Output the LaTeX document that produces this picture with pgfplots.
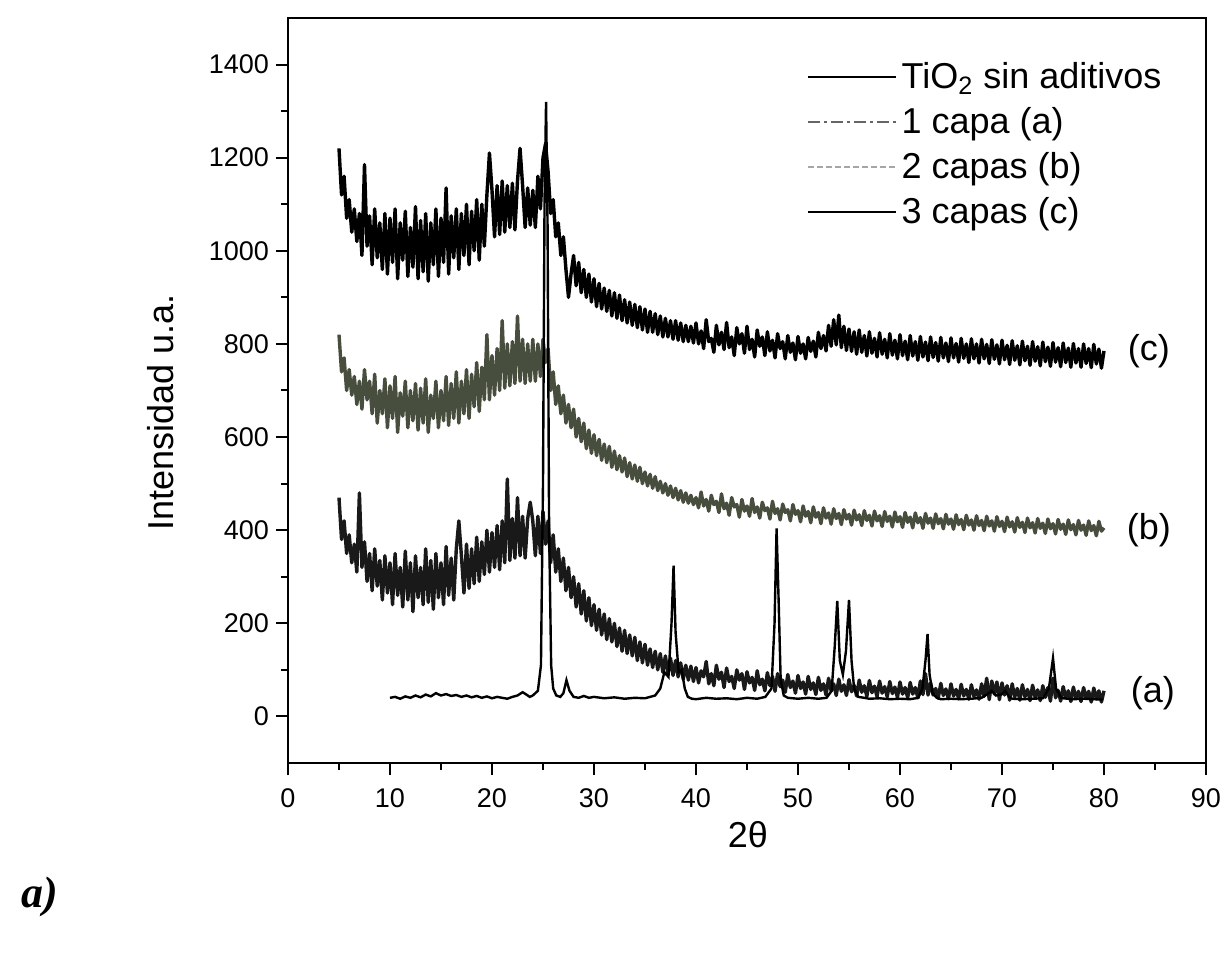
\documentclass[border=0pt]{standalone}
\usepackage{fontspec}
\setmainfont{Liberation Sans}
\newfontfamily\serifbi{Liberation Serif}
\usepackage{pgfplots}
\usepackage{pgfplotstable}
\pgfplotsset{compat=1.18}

\pgfplotstableread{
x a b c
5.00 470 820 1220
5.25 380 740 1120
5.50 420 770 1160
5.75 350 700 1070
6.00 390 745 1110
6.25 330 690 1040
6.50 370 730 1090
6.75 310 670 1020
7.00 480 720 1080
7.25 320 660 990
7.50 375 745 1185
7.75 290 680 1010
8.00 350 720 1075
8.25 270 650 970
8.50 360 735 1090
8.75 280 630 985
9.00 335 700 1060
9.25 250 650 960
9.50 345 725 1080
9.75 265 620 950
10.00 330 710 1070
10.25 240 640 975
10.50 350 730 1090
10.75 260 610 940
11.00 320 695 1060
11.25 235 645 980
11.50 355 720 1085
11.75 250 620 945
12.00 330 700 1050
12.25 225 635 965
12.50 345 715 1095
12.75 255 615 940
13.00 320 705 1065
13.25 240 630 955
13.50 360 725 1080
13.75 245 610 935
14.00 335 690 1060
14.25 230 640 970
14.50 350 720 1090
14.75 255 620 945
15.00 330 700 1070
15.25 240 635 975
15.50 365 730 1135
15.75 260 625 950
16.00 340 715 1075
16.25 250 640 985
16.50 360 740 1090
16.75 420 630 960
17.00 345 720 1080
17.25 265 650 990
17.50 370 745 1100
17.75 275 640 970
18.00 360 735 1085
18.25 285 665 1000
18.50 385 760 1110
18.75 290 655 980
19.00 375 750 1100
19.25 305 680 1010
19.50 400 820 1120
19.75 310 680 1210
20.00 395 775 1130
20.25 320 690 1030
20.50 410 790 1140
20.75 315 700 1035
21.00 420 850 1150
21.25 330 705 1040
21.50 510 800 1140
21.75 335 710 1050
22.00 425 805 1145
22.25 340 715 1045
22.50 470 860 1150
22.75 345 720 1220
23.00 430 810 1140
23.25 340 715 1050
23.50 425 800 1135
23.75 460 720 1055
24.00 420 810 1130
24.25 345 720 1050
24.50 430 800 1160
24.75 350 730 1090
25.00 440 810 1200
25.25 370 760 1230
25.50 420 790 1170
25.75 330 700 1080
26.00 390 740 1110
26.25 310 670 1030
26.50 360 710 1060
26.75 290 650 990
27.00 340 690 1030
27.25 270 630 960
27.50 320 670 900
27.75 255 620 950
28.00 300 660 990
28.25 235 600 925
28.50 285 640 975
28.75 220 590 910
29.00 270 630 960
29.25 205 575 900
29.50 255 615 950
29.75 195 565 890
30.00 240 605 940
30.25 185 560 880
30.50 230 595 930
30.75 175 550 875
31.00 220 585 920
31.25 165 545 870
31.50 210 580 915
31.75 160 535 860
32.00 200 570 910
32.25 150 530 855
32.50 190 560 905
32.75 140 525 850
33.00 185 555 895
33.25 135 515 845
33.50 175 545 890
33.75 130 510 840
34.00 170 540 885
34.25 120 505 835
34.50 160 535 880
34.75 115 500 830
35.00 155 525 875
35.25 110 495 825
35.50 145 520 870
35.75 105 490 825
36.00 140 515 865
36.25 100 485 820
36.50 135 505 860
36.75 95 480 815
37.00 130 500 855
37.25 90 475 815
37.50 125 495 850
37.75 88 470 810
38.00 120 490 850
38.25 85 465 808
38.50 115 485 845
38.75 80 460 805
39.00 110 480 840
39.25 78 458 805
39.50 108 475 838
39.75 75 455 802
40.00 105 470 845
40.25 72 448 800
40.50 98 482 828
40.75 85 452 790
41.00 118 466 852
41.25 70 441 805
41.50 92 475 812
41.75 66 455 782
42.00 110 462 840
42.25 80 438 798
42.50 95 478 825
42.75 62 446 788
43.00 104 458 846
43.25 75 432 792
43.50 86 470 815
43.75 60 450 775
44.00 100 455 835
44.25 78 428 800
44.50 92 466 822
44.75 58 441 780
45.00 96 452 838
45.25 72 430 788
45.50 84 468 810
45.75 56 438 772
46.00 98 450 830
46.25 68 426 795
46.50 80 460 815
46.75 55 442 775
47.00 94 448 826
47.25 66 424 785
47.50 86 462 808
47.75 54 436 770
48.00 92 446 822
48.25 64 422 790
48.50 78 456 805
48.75 52 438 768
49.00 90 444 818
49.25 62 420 782
49.50 76 455 802
49.75 50 434 766
50.00 88 442 816
50.25 60 418 780
50.50 74 452 800
50.75 48 430 768
51.00 86 440 814
51.25 58 416 784
51.50 72 450 806
51.75 47 428 772
52.00 84 438 825
52.25 56 414 790
52.50 70 448 818
52.75 46 426 785
53.00 82 437 840
53.25 55 413 795
53.50 70 446 852
53.75 45 425 798
54.00 80 436 862
54.25 54 412 792
54.50 68 444 838
54.75 45 424 786
55.00 79 434 832
55.25 53 411 784
55.50 67 443 826
55.75 44 422 778
56.00 78 433 830
56.25 52 410 782
56.50 66 442 818
56.75 43 421 774
57.00 77 432 826
57.25 51 409 780
57.50 65 441 812
57.75 42 420 772
58.00 76 431 824
58.25 50 408 778
58.50 64 440 810
58.75 42 419 770
59.00 75 430 822
59.25 49 407 776
59.50 63 439 808
59.75 41 418 768
60.00 74 429 820
60.25 48 406 775
60.50 62 438 806
60.75 40 417 766
61.00 73 428 818
61.25 48 405 774
61.50 62 437 805
61.75 40 416 765
62.00 76 427 816
62.25 47 404 772
62.50 92 436 804
62.75 46 415 764
63.00 72 426 815
63.25 46 404 771
63.50 60 435 803
63.75 39 414 763
64.00 71 425 814
64.25 45 403 770
64.50 59 434 802
64.75 38 413 762
65.00 70 424 813
65.25 44 402 770
65.50 58 433 801
65.75 38 412 761
66.00 69 423 812
66.25 44 401 769
66.50 58 432 800
66.75 37 411 760
67.00 68 422 811
67.25 43 400 768
67.50 57 431 800
67.75 37 410 759
68.00 70 421 810
68.25 43 399 768
68.50 82 430 799
68.75 36 409 758
69.00 76 420 809
69.25 48 398 767
69.50 74 429 798
69.75 36 408 757
70.00 72 419 808
70.25 46 397 766
70.50 66 428 797
70.75 35 407 756
71.00 70 418 807
71.25 42 396 765
71.50 60 427 796
71.75 35 406 755
72.00 68 417 806
72.25 42 395 764
72.50 58 426 795
72.75 34 405 754
73.00 67 416 805
73.25 41 394 763
73.50 57 425 794
73.75 34 404 753
74.00 66 415 804
74.25 41 393 762
74.50 62 424 793
74.75 33 403 752
75.00 82 414 803
75.25 40 392 761
75.50 56 423 792
75.75 33 402 751
76.00 64 413 802
76.25 40 391 760
76.50 55 422 791
76.75 32 401 750
77.00 63 412 801
77.25 39 390 759
77.50 54 421 790
77.75 32 400 750
78.00 62 411 800
78.25 39 389 758
78.50 54 420 790
78.75 31 399 749
79.00 61 410 799
79.25 38 388 757
79.50 55 419 789
79.75 31 398 748
80.00 55 405 785
}\xrd

\pgfplotstableread{
x y
10.0 40
10.5 42
11.0 38
11.5 43
12.0 40
12.5 45
13.0 41
13.5 47
14.0 43
14.5 50
15.0 45
15.5 48
16.0 44
16.5 46
17.0 42
17.5 45
18.0 41
18.5 44
19.0 40
19.5 43
20.0 39
20.5 42
21.0 40
21.5 38
22.0 42
22.5 45
23.0 52
23.3 48
23.7 42
24.0 45
24.5 55
24.8 110
25.0 500
25.15 1100
25.3 1320
25.45 1050
25.6 400
25.8 110
26.0 60
26.3 45
26.7 42
27.0 50
27.3 78
27.6 55
28.0 42
28.5 40
29.0 44
29.5 40
30.0 42
31.0 39
32.0 41
33.0 38
34.0 40
35.0 39
35.5 42
36.0 45
36.5 60
36.9 95
37.3 85
37.6 200
37.8 324
38.0 180
38.3 95
38.6 100
38.9 60
39.2 42
39.6 38
40.0 37
41.0 40
42.0 38
43.0 39
44.0 37
45.0 40
46.0 38
46.8 42
47.4 60
47.7 200
47.9 404
48.1 250
48.3 80
48.6 45
49.0 40
50.0 38
51.0 40
52.0 38
52.8 40
53.3 55
53.6 150
53.85 248
54.1 120
54.4 90
54.7 140
55.0 250
55.25 120
55.5 60
55.9 42
56.5 40
57.0 38
58.0 39
59.0 37
60.0 38
61.0 37
61.8 40
62.2 60
62.5 120
62.7 177
62.9 90
63.2 50
63.6 40
64.0 37
65.0 38
66.0 37
67.0 38
68.0 40
68.7 50
69.0 55
69.4 45
70.0 48
70.3 55
70.7 42
71.0 38
72.0 37
73.0 38
74.0 39
74.6 60
75.0 125
75.3 60
75.8 40
76.0 39
77.0 37
78.0 38
79.0 37
79.9 36
}\tio

\definecolor{capaB}{RGB}{72,78,62}

\begin{document}
\begin{tikzpicture}
\useasboundingbox (-144pt,-100pt) rectangle (466.5pt,381.5pt);
\begin{axis}[
  at={(0pt,0pt)}, anchor=south west, scale only axis,
  width=459pt, height=372.5pt,
  xmin=0, xmax=90, ymin=-100, ymax=1500,
  xtick={0,10,...,90}, ytick={0,200,...,1400},
  minor x tick num=1, minor y tick num=1,
  xtick pos=bottom, ytick pos=left, tick align=outside,
  major tick length=6pt, minor tick length=3.5pt,
  axis line style={line width=1.2pt},
  every tick/.append style={line width=1pt, black},
  tick label style={font=\fontsize{13.5}{16}\selectfont},
  xticklabel style={yshift=-3.5pt},
  /pgf/number format/assume math mode=true,
  /pgf/number format/1000 sep={},
  xlabel={2θ}, ylabel={Intensidad u.a.},
  label style={font=\fontsize{18}{22}\selectfont},
  xlabel style={at={(axis description cs:0.501,-0.0966)}, anchor=center},
  ylabel style={at={(axis description cs:-0.139,0.471)}, anchor=center},
  legend style={draw=none, fill=none, at={(axis description cs:0.563,0.949)}, anchor=north west,
    font=\fontsize{18}{22}\selectfont, inner sep=1pt, row sep=4pt},
  legend cell align=left,
  legend image code/.code={\draw[#1] (0pt,0pt) -- (44pt,0pt);},
]
\addlegendimage{black, line width=1.2pt}
\addlegendentry{TiO\textsubscript{2} sin aditivos}
\addlegendimage{gray!80!black, line width=0.9pt, dash pattern=on 6pt off 2pt on 1.5pt off 2pt}
\addlegendentry{1 capa (a)}
\addlegendimage{gray!70, line width=0.9pt, dash pattern=on 3pt off 1.5pt}
\addlegendentry{2 capas (b)}
\addlegendimage{black, line width=1.2pt}
\addlegendentry{3 capas (c)}

\addplot[black, line width=1.7pt, line join=round, forget plot] table[x=x, y=c] {\xrd};
\addplot[capaB, line width=1.7pt, line join=round, forget plot] table[x=x, y=b] {\xrd};
\addplot[black!90, line width=1.7pt, line join=round, forget plot] table[x=x, y=a] {\xrd};
\addplot[black, line width=1.2pt, forget plot] table[x=x, y=y] {\tio};

\node[font=\fontsize{18}{22}\selectfont] at (axis cs:84.4,784) {(c)};
\node[font=\fontsize{18}{22}\selectfont] at (axis cs:84.4,400) {(b)};
\node[font=\fontsize{18}{22}\selectfont] at (axis cs:84.8,50) {(a)};
\end{axis}
\node[font=\serifbi\bfseries\itshape\fontsize{22}{24}\selectfont] at (-124pt,-67pt) {a)};
\end{tikzpicture}
\end{document}
